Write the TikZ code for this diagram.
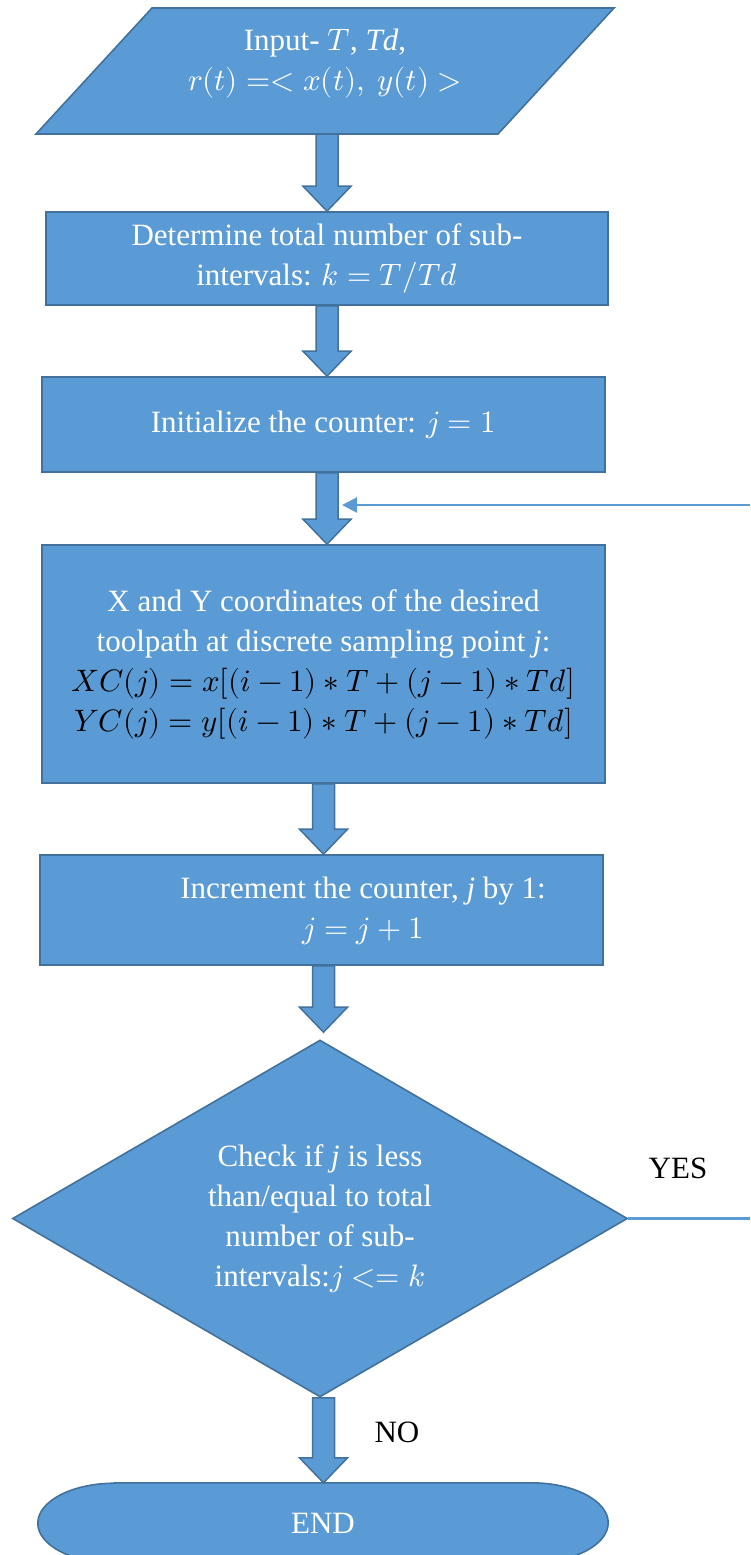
\documentclass[tikz,border=0pt]{standalone}
\usepackage{fontspec}
\usepackage{unicode-math}
\setmainfont{Liberation Serif}
\setmathfont{Latin Modern Math}
\usetikzlibrary{shapes.geometric,calc,arrows.meta}
\definecolor{boxfill}{HTML}{5B9BD5}
\definecolor{boxline}{HTML}{41719C}

% block arrow between two points on a vertical spine
\newcommand\blockarrow[2]{%
  \draw[arrowbody] let \p1=(#1), \p2=(#2) in
    (\x1-11pt,\y1) -- (\x1+11pt,\y1) -- (\x1+11pt,\y2+25pt) -- (\x1+24pt,\y2+25pt)
    -- (\x2,\y2) -- (\x1-24pt,\y2+25pt) -- (\x1-11pt,\y2+25pt) -- cycle;}

\begin{document}
\begin{tikzpicture}[x=1pt,y=-1pt,
  shapebox/.style={draw=boxline, fill=boxfill, line width=1.6pt},
  flowtext/.style={text=white, font=\fontsize{31}{40}\selectfont, align=center, inner sep=0pt},
  procbox/.style={shapebox, flowtext, rectangle},
  arrowbody/.style={draw=boxline, fill=boxfill, line width=1.5pt, line join=miter},
  thinline/.style={draw=boxfill, line width=2.2pt},
  plainlabel/.style={font=\fontsize{31}{36}\selectfont, inner sep=0pt}]
\useasboundingbox (0,0) rectangle (750,1555);

\coordinate (spine) at (327,0);
\coordinate (lowspine) at (323.5,0);

% input parallelogram
\coordinate (inNW) at (152,8);
\coordinate (inNE) at (614,8);
\coordinate (inSE) at (498,134);
\coordinate (inSW) at (36,134);
\draw[shapebox] (inNW) -- (inNE) -- (inSE) -- (inSW) -- cycle;
\node[flowtext] (input) at (325,64) {Input- $T$, \textit{Td},\\$r(t) =< x(t),\ y(t) >$};

% process boxes
\node[procbox, minimum width=562pt, minimum height=93pt] (det) at (327,258.5)
  {Determine total number of sub-\\intervals: $k = T/Td$};
\node[procbox, minimum width=563pt, minimum height=95pt] (init) at (323.5,424.5)
  {Initialize the counter: $j = 1$};
\node[procbox, minimum width=563pt, minimum height=238pt] (coord) at (323.5,664)
  {X and Y coordinates of the desired\\toolpath at discrete sampling point \textit{j}:\\
   \textcolor{black}{$XC(j) = x[(i-1)*T+(j-1)*Td]$}\\
   \textcolor{black}{$YC(j) = y[(i-1)*T+(j-1)*Td]$}};
\node[procbox, minimum width=563pt, minimum height=110pt] (inc) at (321.5,910) {};
\node[flowtext] (inctext) at (363,911) {Increment the counter, \textit{j} by 1:\\$j = j + 1$};

% decision
\node[shapebox, flowtext, diamond, aspect=1.72, minimum width=615pt, minimum height=357pt] (check) at (320,1218.5)
  {Check if \textit{j} is less\\than/equal to total\\number of sub-\\intervals:$j <= k$};

% terminal: flat top and bottom with elliptical ends
\node[minimum width=570pt, minimum height=80pt, inner sep=0pt] (end) at (323,1523) {};
\filldraw[shapebox] ($(end.north west)+(77,0)$) -- ($(end.north east)+(-77,0)$)
  arc[start angle=90, end angle=-90, x radius=77pt, y radius=40pt]
  -- ($(end.south west)+(77,0)$)
  arc[start angle=270, end angle=90, x radius=77pt, y radius=40pt] -- cycle;
\node[flowtext] (endtext) at (end.center) {END};

% block arrows
\blockarrow{inSW -| spine}{det.north -| spine}
\blockarrow{det.south -| spine}{init.north -| spine}
\blockarrow{init.south -| spine}{coord.north -| spine}
\blockarrow{coord.south -| lowspine}{inc.north -| lowspine}
\coordinate (checktop) at ($(check.north -| lowspine)+(0,-7)$);
\blockarrow{inc.south -| lowspine}{checktop}
\blockarrow{check.south -| lowspine}{end.north -| lowspine}

% loop back
\coordinate (loopin) at (750,505);
\coordinate (looptip) at (342,505);
\draw[thinline, -{Triangle[length=15pt,width=15pt]}] (loopin) -- (looptip);
\coordinate (yesout) at (check.east -| loopin);
\draw[thinline] (check.east) -- (yesout);

\node[plainlabel] (yes) at (678,1168) {YES};
\node[plainlabel] (no) at (397,1432) {NO};
\end{tikzpicture}
\end{document}
